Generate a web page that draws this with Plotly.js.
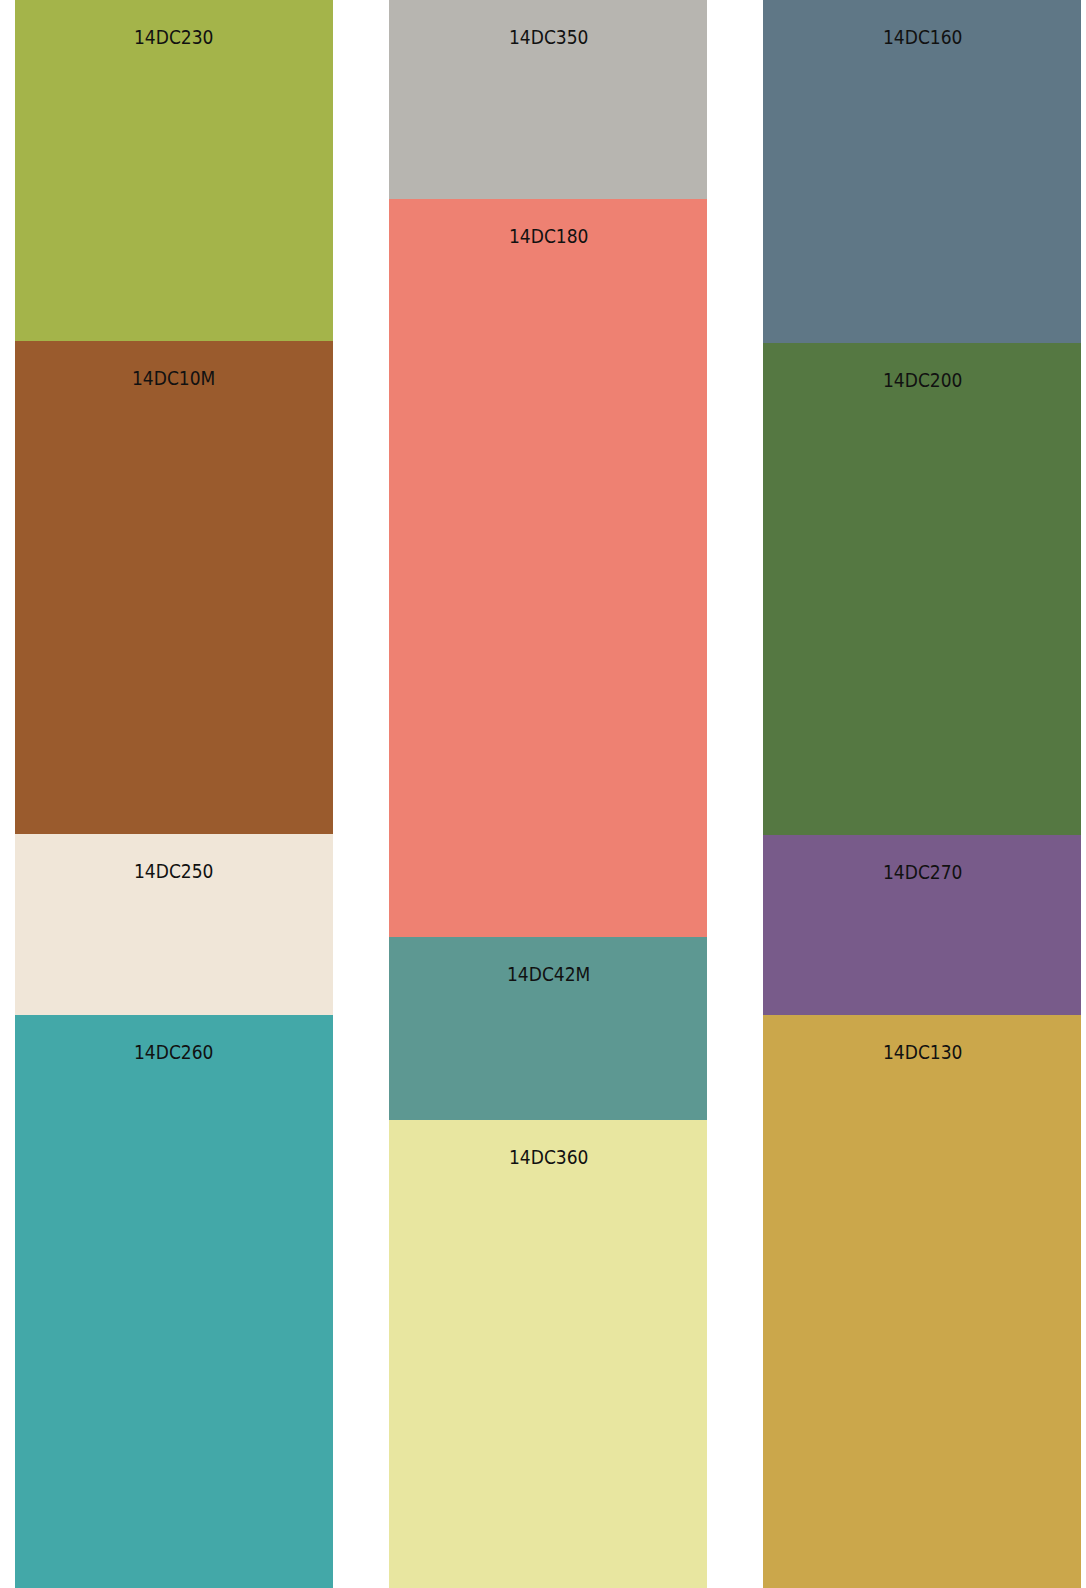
<!DOCTYPE html>
<html>
<head>
<meta charset="utf-8">
<script src="https://cdn.plot.ly/plotly-3.0.1.min.js"></script>
<style>html,body{margin:0;padding:0;background:#fff;}#chart{width:1086px;height:1588px;}</style>
</head>
<body>
<div id="chart"></div>
<script>
// Column positions (one stacked column each)
const columns = [0, 1, 2];

// Stack levels, top to bottom
const level1Labels = ['14DC230', '14DC350', '14DC160'];
const level1Values = [21.5, 12.5, 21.6];
const level1Colors = ['#A4B44A', '#B7B5B0', '#5F7786'];

const level2Labels = ['14DC10M', '14DC180', '14DC200'];
const level2Values = [31.0, 46.5, 31.0];
const level2Colors = ['#9A5B2D', '#EE8172', '#557842'];

const level3Labels = ['14DC250', '14DC42M', '14DC270'];
const level3Values = [11.4, 11.5, 11.3];
const level3Colors = ['#F0E6D8', '#5D9892', '#785B8A'];

const level4Labels = ['14DC260', '14DC360', '14DC130'];
const level4Values = [36.1, 29.5, 36.1];
const level4Colors = ['#43A8A8', '#E8E6A0', '#CBA74B'];

const levels = [
  {labels: level1Labels, values: level1Values, colors: level1Colors},
  {labels: level2Labels, values: level2Values, colors: level2Colors},
  {labels: level3Labels, values: level3Values, colors: level3Colors},
  {labels: level4Labels, values: level4Values, colors: level4Colors}
];

const fontFamily = '"DejaVu Sans Condensed", "Liberation Sans Narrow", sans-serif';

const traces = [];
const annotations = [];
const cum = columns.map(() => 0);
levels.forEach(lv => {
  traces.push({
    type: 'bar',
    x: columns,
    y: lv.values,
    marker: {color: lv.colors, line: {width: 0}},
    hoverinfo: 'none'
  });
  columns.forEach((c, i) => {
    annotations.push({
      x: c, y: cum[i], xref: 'x', yref: 'y',
      text: lv.labels[i],
      showarrow: false,
      xanchor: 'center', yanchor: 'middle',
      yshift: -37,
      font: {family: fontFamily, size: 19, color: '#111111'}
    });
    cum[i] += lv.values[i];
  });
});

const layout = {
  width: 1086, height: 1588,
  margin: {l: 15, r: 5, t: 0, b: 0, pad: 0},
  paper_bgcolor: '#ffffff', plot_bgcolor: '#ffffff',
  barmode: 'stack', bargap: 0.15,
  showlegend: false,
  xaxis: {range: [-0.425, 2.425], visible: false, fixedrange: true},
  yaxis: {range: [100, 0], visible: false, fixedrange: true},
  annotations: annotations
};

Plotly.newPlot('chart', traces, layout, {staticPlot: true, displayModeBar: false});
</script>
</body>
</html>
